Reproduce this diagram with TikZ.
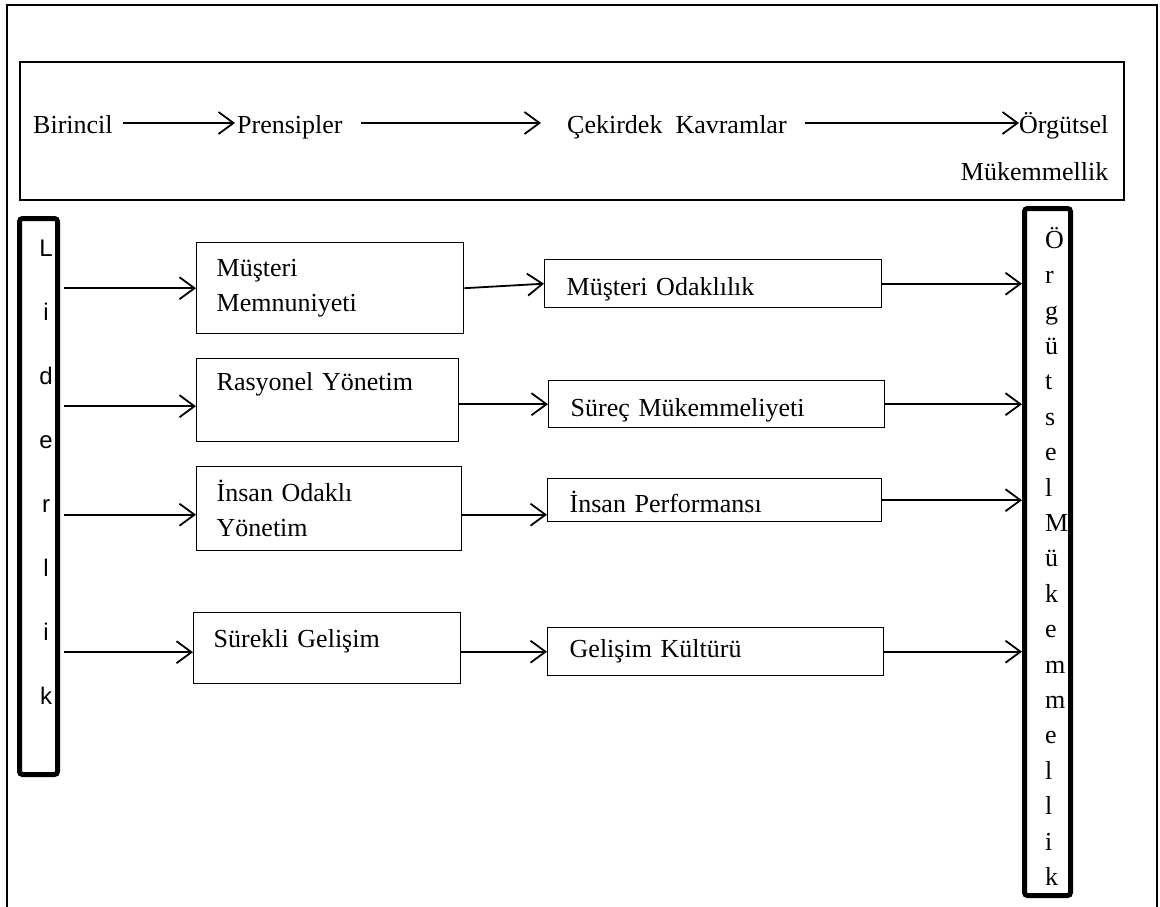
\documentclass[tikz,border=0pt]{standalone}
\usepackage{fontspec}
\setmainfont{Liberation Serif}
\newfontfamily\arialfont{Liberation Sans}
\usetikzlibrary{positioning,arrows.meta}

\begin{document}
\begin{tikzpicture}[x=1pt,y=-1pt,
    ok/.style={-{Straight Barb[length=15pt,width=22pt]}, line width=1.8pt},
    kutu/.style={rectangle, draw, line width=1.4pt, anchor=north west, align=left,
      inner xsep=20pt, inner ysep=0pt, font=\fontsize{26pt}{35pt}\selectfont},
    kavram/.style={kutu, inner xsep=22pt, text height=29pt, text depth=5pt},
    ust/.style={anchor=base west, inner sep=0pt, text height=20pt, text depth=0pt,
      font=\fontsize{26pt}{35pt}\selectfont},
    cubuk/.style={rectangle, draw, line width=5pt, rounded corners=3pt}
    ]
\useasboundingbox (0,0) rectangle (1160,907);

% cerceveler
\draw[line width=2.2pt] (7,920) -- (7,5) -- (1157,5) -- (1157,920);
\draw[line width=2.5pt] (20,62) rectangle (1124,200);

% ust satir
\node[ust] (bir) at (33,133) {Birincil};
\node[ust] (pre) at (237,133) {Prensipler};
\node[ust] (cek) at (567,133) {Çekirdek\ \ Kavramlar};
\node[ust] (org) at (1019,133) {Örgütsel};
\node[ust, anchor=base east] (orgm) at ([yshift=-47pt]org.base east) {Mükemmellik};

\draw[ok, shorten <=10pt, shorten >=2pt] (bir) -- (pre);
\draw[ok, shorten <=18pt, shorten >=26pt] (pre) -- (cek);
\draw[ok, shorten <=18pt] (cek) -- (org);

% cubuklar
\node[cubuk, minimum width=38pt, minimum height=556pt] (lider) at (38.5,496.5) {};
\node[anchor=north, align=center, inner sep=0pt,
  font=\arialfont\fontsize{24pt}{64pt}\selectfont] (lidyazi) at (46,240)
  {L\\i\\d\\e\\r\\l\\i\\k};
\node[cubuk, minimum width=46pt, minimum height=687pt] (sag) at (1047.5,552) {};
\node[anchor=north west, align=left, inner sep=0pt,
  font=\fontsize{26pt}{35.4pt}\selectfont] (sagyazi) at (1045,227)
  {Ö\\r\\g\\ü\\t\\s\\e\\l\\M\\ü\\k\\e\\m\\m\\e\\l\\l\\i\\k};

% prensipler
\node[kutu, text width=227pt, minimum height=91pt] (mm) at (196,242) {Müşteri\\Memnuniyeti};
\node[kutu, text width=222pt, minimum height=83pt, text height=17pt, text depth=36pt] (ry) at (196,358) {Rasyonel Yönetim};
\node[kutu, text width=225pt, minimum height=84pt] (io) at (196,466) {İnsan Odaklı\\Yönetim};
\node[kutu, text width=227pt, minimum height=71pt, text height=17pt, text depth=18pt] (sg) at (193,612) {Sürekli Gelişim};

% temel kavramlar
\node[kavram, text width=293pt, minimum height=48pt] (mo) at (544,259) {Müşteri Odaklılık};
\node[kavram, text width=292pt, minimum height=47pt] (sm) at (548,380) {Süreç Mükemmeliyeti};
\node[kavram, text width=290pt, minimum height=43pt] (ip) at (547,478) {İnsan Performansı};
\node[kutu, inner xsep=22pt, text width=292pt, minimum height=48pt] (gk) at (547,627) {Gelişim Kültürü};

% oklar
\draw[ok, shorten <=4pt] (lider.east |- mm.west) -- (mm.west);
\draw[ok, shorten <=4pt] ([yshift=-6pt]ry.west -| lider.east) -- ([yshift=-6pt]ry.west);
\draw[ok, shorten <=4pt] ([yshift=-6pt]io.west -| lider.east) -- ([yshift=-6pt]io.west);
\draw[ok, shorten <=4pt] ([yshift=-4pt]sg.west -| lider.east) -- ([yshift=-4pt]sg.west);

\draw[ok] (mm.east) -- (mo.west);
\draw[ok] (ry.east |- sm.west) -- (sm.west);
\draw[ok] ([yshift=-6pt]io.east) -- ([yshift=-6pt]io.east -| ip.west);
\draw[ok] (sg.east |- gk.west) -- (gk.west);

\draw[ok] (mo.east) -- (mo.east -| sag.west);
\draw[ok] (sm.east) -- (sm.east -| sag.west);
\draw[ok] (ip.east) -- (ip.east -| sag.west);
\draw[ok] (gk.east) -- (gk.east -| sag.west);
\end{tikzpicture}
\end{document}
